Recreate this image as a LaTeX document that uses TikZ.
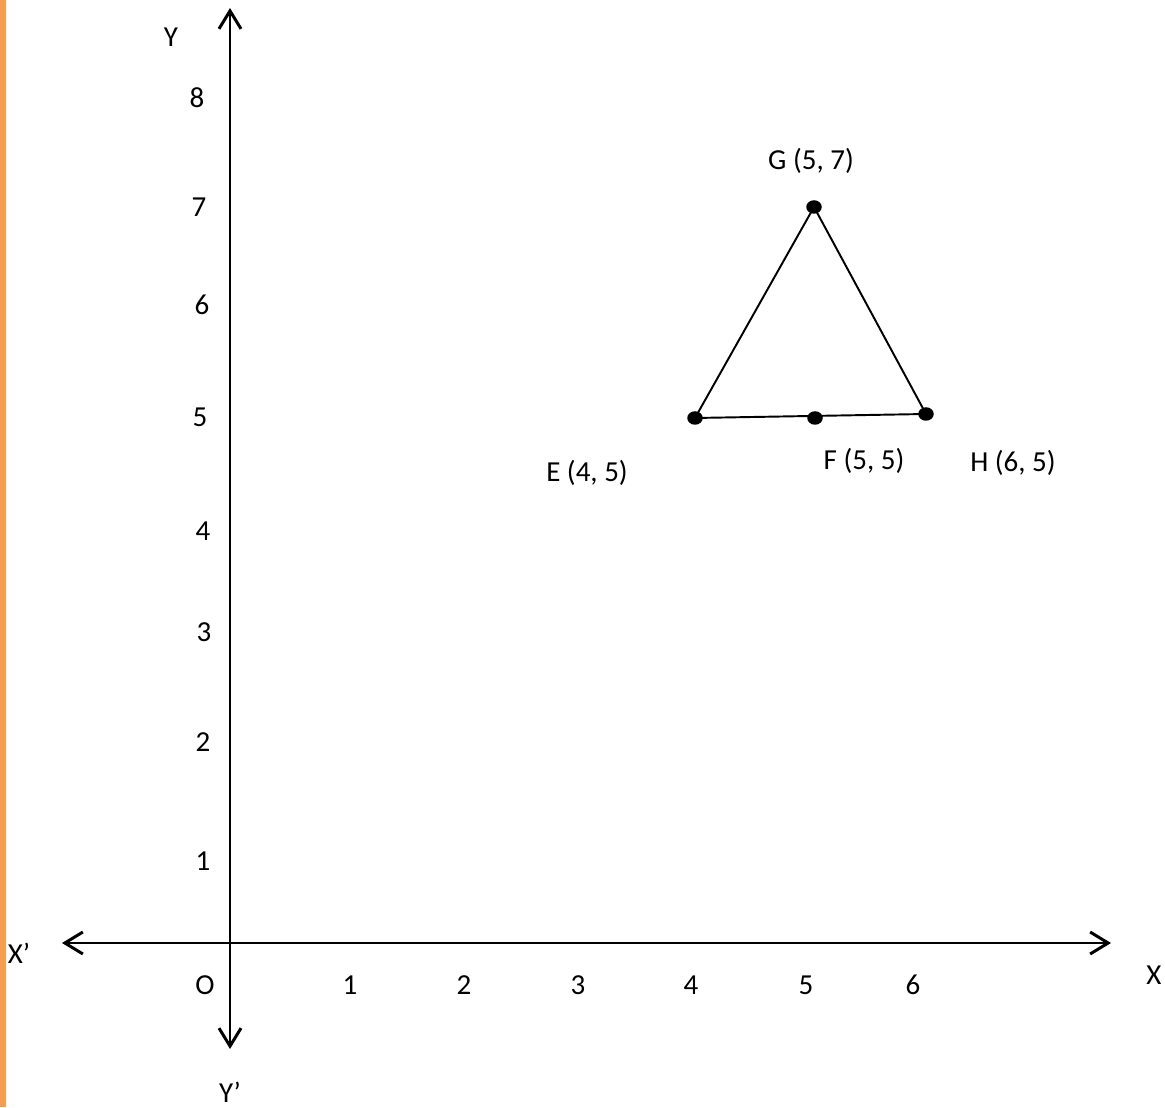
\documentclass[tikz,border=0pt]{standalone}
\usepackage{fontspec}
\setmainfont{Carlito}
\usepackage{tikz}
\usetikzlibrary{arrows.meta, positioning}
\definecolor{barorange}{RGB}{247,158,76}
\tikzset{
  axisline/.style={
    line width=1.7pt, draw=black,
    {Straight Barb[length=0.36cm,width=0.44cm]}-{Straight Barb[length=0.36cm,width=0.44cm]}
  },
  sideline/.style={line width=1.1pt, draw=black},
  ptdot/.style={
    ellipse, fill=black, inner sep=0pt, minimum width=0.31cm, minimum height=0.27cm
  },
  axlabel/.style={
    font=\fontsize{16.5}{20}\selectfont, inner sep=1pt
  },
  ptlabel/.style={
    font=\fontsize{16.5}{20}\selectfont, inner sep=1pt
  },
}
\usetikzlibrary{shapes.geometric}

\begin{document}
\begin{tikzpicture}
    \useasboundingbox (0,0) rectangle (23.3,22.14);
    \fill[barorange] (0,0) rectangle (0.12,22.14);
    % axes
    \coordinate (ytop) at (4.6,21.98);
    \coordinate (ybot) at (4.6,1.16);
    \coordinate (xleft) at (1.24,3.28);
    \coordinate (xright) at (22.22,3.28);
    \draw[axisline] (ybot) -- (ytop);
    \draw[axisline] (xleft) -- (xright);
    \node[axlabel] (ylab)  at (3.42,21.40) {Y};
    \node[axlabel] (yplab) at (4.6,0.30)   {Y’};
    \node[axlabel] (xplab) at (0.38,3.08)  {X’};
    \node[axlabel] (xlab)  at (23.08,2.64) {X};
    \node[axlabel] (olab)  at (4.10,2.44)  {O};
    % ticks on x
    \node[axlabel] (x1) at (7.00,2.44)  {1};
    \node[axlabel] (x2) at (9.28,2.44)  {2};
    \node[axlabel] (x3) at (11.56,2.44) {3};
    \node[axlabel] (x4) at (13.82,2.44) {4};
    \node[axlabel] (x5) at (16.12,2.44) {5};
    \node[axlabel] (x6) at (18.26,2.44) {6};
    % ticks on y
    \node[axlabel] (y1) at (4.06,4.92)  {1};
    \node[axlabel] (y2) at (4.06,7.30)  {2};
    \node[axlabel] (y3) at (4.08,9.50)  {3};
    \node[axlabel] (y4) at (4.06,11.52) {4};
    \node[axlabel] (y5) at (4.00,13.80) {5};
    \node[axlabel] (y6) at (4.04,16.04) {6};
    \node[axlabel] (y7) at (3.98,18.00) {7};
    \node[axlabel] (y8) at (3.94,20.18) {8};
    % triangle
    \node[ptdot] (G) at (16.28,18.00) {};
    \node[ptdot] (E) at (13.90,13.78) {};
    \node[ptdot] (F) at (16.30,13.78) {};
    \node[ptdot] (H) at (18.52,13.86) {};
    \draw[sideline] (E.center) -- (G.center) -- (H.center) -- cycle;
    \node[ptlabel] (Glab) at (16.22,18.92) {G (5, 7)};
    \node[ptlabel] (Elab) at (11.74,12.68) {E (4, 5)};
    \node[ptlabel] (Flab) at (17.28,12.92) {F (5, 5)};
    \node[ptlabel] (Hlab) at (20.26,12.88) {H (6, 5)};
  \end{tikzpicture}
\end{document}
